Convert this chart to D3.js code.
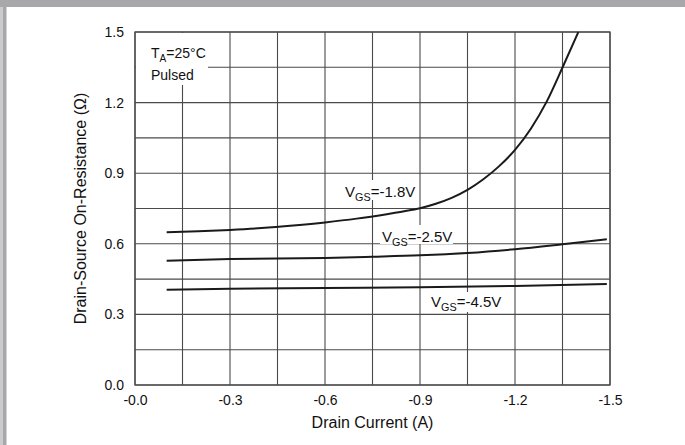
<!DOCTYPE html>
<html><head><meta charset="utf-8">
<script src="https://cdn.jsdelivr.net/npm/d3@7"></script>
<style>body{margin:0;background:#fff}svg{display:block;font-family:Arial,"Liberation Sans",sans-serif}</style>
</head><body><svg id="c" width="685" height="445"></svg>
<script>
const xTicks = [-0.0, -0.3, -0.6, -0.9, -1.2, -1.5];
const xTickLabels = ["-0.0", "-0.3", "-0.6", "-0.9", "-1.2", "-1.5"];
const yTicks = [0.0, 0.3, 0.6, 0.9, 1.2, 1.5];
const yTickLabels = ["0.0", "0.3", "0.6", "0.9", "1.2", "1.5"];
const xGrid = [-0.15, -0.45, -0.75, -1.05, -1.35];
const yGrid = [0.15, 0.45, 0.75, 1.05, 1.35];

const i18 = [-0.1, -0.2, -0.3, -0.4, -0.5, -0.6, -0.7, -0.8, -0.85, -0.9, -0.95, -1.0, -1.05, -1.1, -1.15, -1.2, -1.25, -1.3, -1.35, -1.4];
const r18 = [0.649, 0.653, 0.659, 0.667, 0.678, 0.691, 0.707, 0.727, 0.738, 0.751, 0.770, 0.795, 0.829, 0.874, 0.930, 0.999, 1.089, 1.204, 1.349, 1.5];
const i25 = [-0.1, -0.3, -0.6, -0.75, -0.9, -1.05, -1.2, -1.35, -1.49];
const r25 = [0.528, 0.535, 0.540, 0.545, 0.551, 0.561, 0.577, 0.598, 0.619];
const i45 = [-0.1, -0.3, -0.6, -0.9, -1.2, -1.49];
const r45 = [0.405, 0.409, 0.412, 0.415, 0.421, 0.429];

const svg = d3.select("#c");
const W = 685, H = 445;
svg.append("rect").attr("x",0).attr("y",0).attr("width",W).attr("height",7).attr("fill","#a8a8aa");
svg.append("rect").attr("x",0).attr("y",7).attr("width",3).attr("height",H-7).attr("fill","#cbcbcd");
svg.append("rect").attr("x",3).attr("y",7).attr("width",3.5).attr("height",H-7).attr("fill","#a8a8aa");

const L = 135, R = 610, T = 32, B = 385;
const x = d3.scaleLinear().domain([0, -1.5]).range([L, R]);
const y = d3.scaleLinear().domain([0, 1.5]).range([B, T]);
const gridColor = "#4a4a4a";
const FONT = "Arial,'Liberation Sans',sans-serif";

const g = svg.append("g");
const allX = xTicks.concat(xGrid), allY = yTicks.concat(yGrid);
g.selectAll(".vx").data(allX).enter().append("line")
  .attr("x1", d => x(d)).attr("x2", d => x(d)).attr("y1", T).attr("y2", B)
  .attr("stroke", gridColor).attr("stroke-width", 1.1);
g.selectAll(".hy").data(allY).enter().append("line")
  .attr("y1", d => y(d)).attr("y2", d => y(d)).attr("x1", L).attr("x2", R)
  .attr("stroke", gridColor).attr("stroke-width", 1.1);
g.append("rect").attr("x", L).attr("y", T).attr("width", R-L).attr("height", B-T)
  .attr("fill","none").attr("stroke", gridColor).attr("stroke-width", 1.3);

const xAxis = d3.axisBottom(x).tickValues(xTicks).tickSize(0).tickPadding(10)
  .tickFormat((d,i) => xTickLabels[i]);
const xa = svg.append("g").attr("transform", `translate(0,${B})`).call(xAxis);
xa.select(".domain").remove();
xa.selectAll("text").attr("font-size", 14).attr("font-family", FONT).attr("fill","#111");

const yAxis = d3.axisLeft(y).tickValues(yTicks).tickSize(0).tickPadding(11)
  .tickFormat((d,i) => yTickLabels[i]);
const ya = svg.append("g").attr("transform", `translate(${L},0)`).call(yAxis);
ya.select(".domain").remove();
ya.selectAll("text").attr("font-size", 14).attr("font-family", FONT).attr("fill","#111");

svg.append("text").attr("x", (L+R)/2).attr("y", 428).attr("text-anchor","middle")
  .attr("font-size", 16).attr("fill","#111").text("Drain Current (A)");
svg.append("text").attr("transform", `translate(86,${(T+B)/2}) rotate(-90)`).attr("text-anchor","middle")
  .attr("font-size", 16).attr("fill","#111").text("Drain-Source On-Resistance (Ω)");

const boxes = [[136, 33, 72, 52], [343, 180, 76, 20], [380, 225, 73, 19], [428, 292, 78, 20]];
svg.selectAll(".bx").data(boxes).enter().append("rect")
  .attr("x", d => d[0]).attr("y", d => d[1]).attr("width", d => d[2]).attr("height", d => d[3]).attr("fill", "#fff");

const line = d3.line().x(d => x(d[0])).y(d => y(d[1])).curve(d3.curveMonotoneX);
[[i18, r18], [i25, r25], [i45, r45]].forEach(([a, b]) => {
  svg.append("path").datum(a.map((v, k) => [v, b[k]])).attr("d", line)
    .attr("fill", "none").attr("stroke", "#1a1a1a").attr("stroke-width", 2);
});

function lbl(xp, yp, main, sub, rest, fs) {
  const t = svg.append("text").attr("x", xp).attr("y", yp).attr("font-size", fs).attr("fill", "#111");
  t.append("tspan").text(main);
  t.append("tspan").attr("font-size", fs*0.72).attr("dy", 4).text(sub);
  t.append("tspan").attr("dy", -4).text(rest);
}
lbl(151, 58, "T", "A", "=25°C", 14);
svg.append("text").attr("x", 151).attr("y", 80).attr("font-size", 14).attr("fill","#111").text("Pulsed");
lbl(345, 196.5, "V", "GS", "=-1.8V", 15);
lbl(382, 241.5, "V", "GS", "=-2.5V", 15);
lbl(431, 307, "V", "GS", "=-4.5V", 15);
</script></body></html>
